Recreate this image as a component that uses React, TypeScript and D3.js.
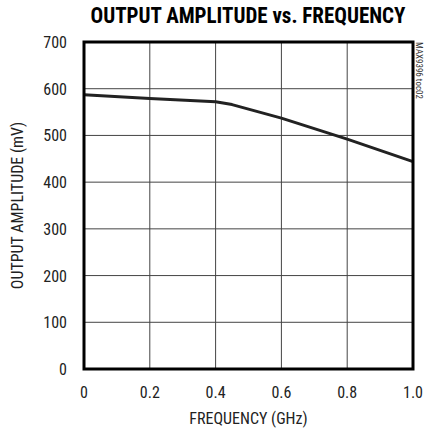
import React, { useEffect, useRef } from "react";
import * as d3 from "d3";

const frequency = [0, 0.2, 0.4, 0.45, 0.6, 0.8, 1.0];
const amplitude = [587, 579, 572, 566, 537, 492, 444];
const xTicks = [0, 0.2, 0.4, 0.6, 0.8, 1.0];
const yTicks = [0, 100, 200, 300, 400, 500, 600, 700];

const FONT = "'Liberation Sans Narrow', 'Arial Narrow', 'Roboto Condensed', 'Liberation Sans', sans-serif";

export default function App() {
  const svgRef = useRef<SVGSVGElement>(null);
  const width = 424;
  const height = 434;

  useEffect(() => {
    const svg = d3.select(svgRef.current);
    svg.selectAll("*").remove();

    const margin = { top: 42, right: 11, bottom: 65, left: 84 };
    const innerWidth = width - margin.left - margin.right;
    const innerHeight = height - margin.top - margin.bottom;

    const x = d3.scaleLinear().domain([0, 1]).range([0, innerWidth]);
    const y = d3.scaleLinear().domain([0, 700]).range([innerHeight, 0]);

    svg
      .append("text")
      .attr("x", 248)
      .attr("y", 23)
      .attr("text-anchor", "middle")
      .attr("font-family", FONT)
      .attr("font-weight", "bold")
      .attr("font-size", 22)
      .attr("textLength", 315)
      .attr("lengthAdjust", "spacingAndGlyphs")
      .text("OUTPUT AMPLITUDE vs. FREQUENCY");

    const g = svg
      .append("g")
      .attr("transform", `translate(${margin.left},${margin.top})`);

    // grid
    g.selectAll(".vgrid")
      .data(xTicks.slice(1, -1))
      .enter()
      .append("line")
      .attr("x1", (d) => x(d))
      .attr("x2", (d) => x(d))
      .attr("y1", 0)
      .attr("y2", innerHeight)
      .attr("stroke", "#444")
      .attr("stroke-width", 1);

    g.selectAll(".hgrid")
      .data(yTicks.slice(1, -1))
      .enter()
      .append("line")
      .attr("x1", 0)
      .attr("x2", innerWidth)
      .attr("y1", (d) => y(d))
      .attr("y2", (d) => y(d))
      .attr("stroke", "#444")
      .attr("stroke-width", 1);

    // curve
    const data = frequency.map((f, i) => ({ f, a: amplitude[i] }));
    const line = d3
      .line<{ f: number; a: number }>()
      .x((d) => x(d.f))
      .y((d) => y(d.a));

    g.append("path")
      .datum(data)
      .attr("fill", "none")
      .attr("stroke", "#222")
      .attr("stroke-width", 3)
      .attr("stroke-linejoin", "round")
      .attr("d", line);

    // frame
    g.append("rect")
      .attr("x", 0)
      .attr("y", 0)
      .attr("width", innerWidth)
      .attr("height", innerHeight)
      .attr("fill", "none")
      .attr("stroke", "#000")
      .attr("stroke-width", 3);

    // tick labels
    g.selectAll(".ylab")
      .data(yTicks)
      .enter()
      .append("text")
      .attr("x", -17)
      .attr("y", (d) => y(d) + 6)
      .attr("text-anchor", "end")
      .attr("font-family", FONT)
      .attr("font-size", 16)
      .attr("fill", "#222")
      .text((d) => d);

    g.selectAll(".xlab")
      .data(xTicks)
      .enter()
      .append("text")
      .attr("x", (d) => x(d))
      .attr("y", innerHeight + 29)
      .attr("text-anchor", "middle")
      .attr("font-family", FONT)
      .attr("font-size", 16)
      .attr("fill", "#222")
      .text((d) => d3.format(".1f")(d).replace(/^0\.0$/, "0"));

    svg
      .append("text")
      .attr("x", margin.left + innerWidth / 2)
      .attr("y", 424)
      .attr("text-anchor", "middle")
      .attr("font-family", FONT)
      .attr("font-size", 16)
      .attr("fill", "#222")
      .text("FREQUENCY (GHz)");

    svg
      .append("text")
      .attr("transform", `translate(23,${margin.top + innerHeight / 2}) rotate(-90)`)
      .attr("text-anchor", "middle")
      .attr("font-family", FONT)
      .attr("font-size", 16)
      .attr("fill", "#222")
      .text("OUTPUT AMPLITUDE (mV)");

    svg
      .append("text")
      .attr("transform", `translate(416,${margin.top}) rotate(90)`)
      .attr("text-anchor", "start")
      .attr("font-family", FONT)
      .attr("font-size", 9)
      .attr("fill", "#333")
      .text("MAX9396 toc02");
  }, []);

  return (
    <svg
      ref={svgRef}
      width={width}
      height={height}
      style={{ position: "absolute", left: 0, top: 0, background: "#fff" }}
    />
  );
}
